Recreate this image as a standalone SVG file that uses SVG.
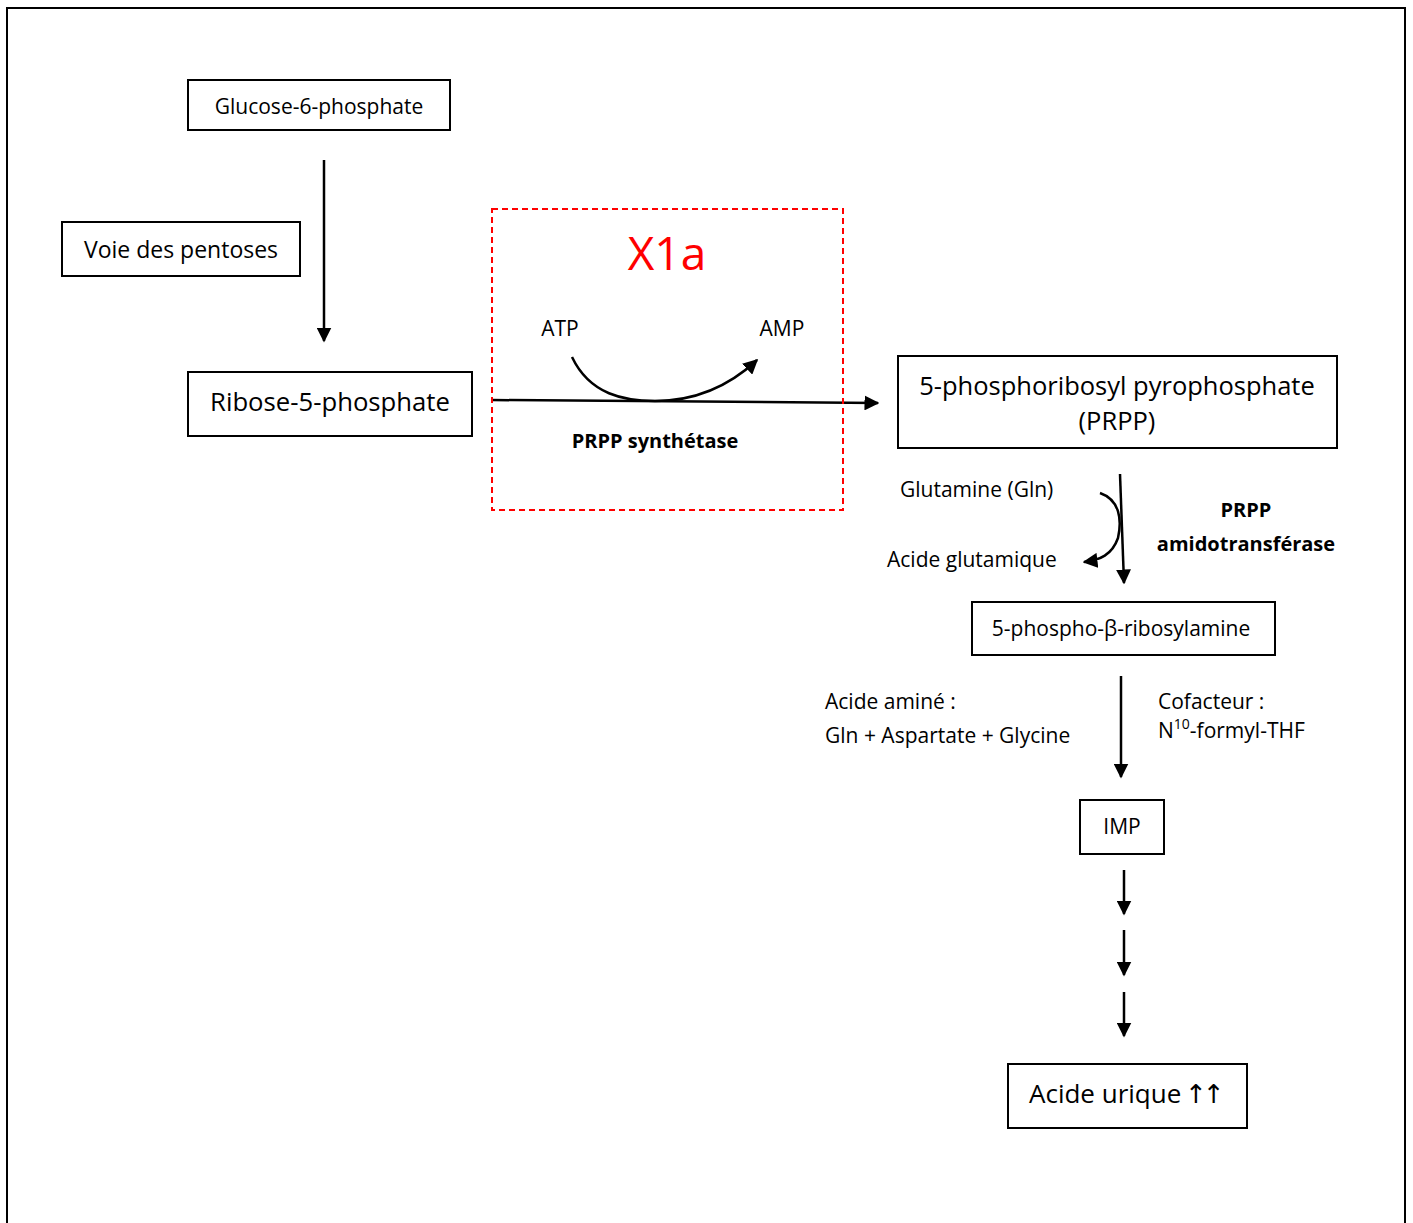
<svg xmlns="http://www.w3.org/2000/svg" width="1413" height="1223" viewBox="0 0 1413 1223">
<style>
text{font-family:"Open Sans","Noto Sans","Liberation Sans",sans-serif;fill:#000}
.box{fill:#fff;stroke:#000;stroke-width:2}
.c{text-anchor:middle}
.b{font-weight:bold}
.ln{fill:none;stroke:#000;stroke-width:2.5}
.up{font-family:"DejaVu Sans",sans-serif;font-size:26px;letter-spacing:-4px}
</style>
<defs>
<marker id="ah" viewBox="0 0 10 10" refX="9" refY="5" markerWidth="6" markerHeight="6" markerUnits="strokeWidth" orient="auto">
<path d="M0,0 L10,5 L0,10 z" fill="#000"/>
</marker>
</defs>
<rect x="0" y="0" width="1413" height="1223" fill="#fff"/>
<rect x="7" y="8" width="1398" height="1225" fill="none" stroke="#000" stroke-width="2"/>

<g id="connectors">
<line class="ln" x1="324" y1="160" x2="324" y2="341" marker-end="url(#ah)"/>
<line class="ln" x1="492" y1="400" x2="878" y2="403" marker-end="url(#ah)"/>
<path class="ln" d="M572,357 C590,395 625,401 655,401 C690,401 725,390 757,360" marker-end="url(#ah)"/>
<line class="ln" x1="1120" y1="474" x2="1124" y2="583" marker-end="url(#ah)"/>
<path class="ln" d="M1100,493 C1120,500 1122,520 1118,538 C1112,555 1100,560 1084,562" marker-end="url(#ah)"/>
<line class="ln" x1="1121" y1="676" x2="1121" y2="777" marker-end="url(#ah)"/>
<line class="ln" x1="1124" y1="870" x2="1124" y2="914" marker-end="url(#ah)"/>
<line class="ln" x1="1124" y1="930" x2="1124" y2="975" marker-end="url(#ah)"/>
<line class="ln" x1="1124" y1="992" x2="1124" y2="1036" marker-end="url(#ah)"/>
</g>

<g id="x1a">
<rect x="492" y="209" width="351" height="301" fill="none" stroke="#f00" stroke-width="2" stroke-dasharray="6,4"/>
<text class="c" x="667" y="270" font-size="46" style="fill:#f00">X1a</text>
<text class="c" x="560" y="336" font-size="21">ATP</text>
<text class="c" x="782" y="336" font-size="21">AMP</text>
<text class="c b" x="655" y="448" font-size="20">PRPP synthétase</text>
</g>

<g id="glucose6p">
<rect class="box" x="188" y="80" width="262" height="50"/>
<text class="c" x="319" y="114" font-size="21">Glucose-6-phosphate</text>
</g>
<g id="voie">
<rect class="box" x="62" y="222" width="238" height="54"/>
<text class="c" x="181" y="258" font-size="23">Voie des pentoses</text>
</g>
<g id="ribose5p">
<rect class="box" x="188" y="372" width="284" height="64"/>
<text class="c" x="330" y="411" font-size="25.7">Ribose-5-phosphate</text>
</g>
<g id="prpp">
<rect class="box" x="898" y="356" width="439" height="92"/>
<text class="c" x="1117" y="395" font-size="25.5">5-phosphoribosyl pyrophosphate</text>
<text class="c" x="1117" y="430" font-size="25.5">(PRPP)</text>
</g>
<g id="gln-labels">
<text x="900" y="497" font-size="21">Glutamine (Gln)</text>
<text x="887" y="567" font-size="21">Acide glutamique</text>
<text class="c b" x="1246" y="517" font-size="20">PRPP</text>
<text class="c b" x="1246" y="551" font-size="20">amidotransférase</text>
</g>
<g id="ribosylamine">
<rect class="box" x="972" y="602" width="303" height="53"/>
<text class="c" x="1121" y="636" font-size="21">5-phospho-β-ribosylamine</text>
</g>
<g id="imp-labels">
<text x="825" y="709" font-size="21">Acide aminé :</text>
<text x="825" y="743" font-size="21">Gln + Aspartate + Glycine</text>
<text x="1158" y="709" font-size="21">Cofacteur :</text>
<text x="1158" y="738" font-size="21">N<tspan font-size="14" dy="-9">10</tspan><tspan dy="9">-formyl-THF</tspan></text>
</g>
<g id="imp">
<rect class="box" x="1080" y="800" width="84" height="54"/>
<text class="c" x="1122" y="834" font-size="21">IMP</text>
</g>
<g id="acide-urique">
<rect class="box" x="1008" y="1064" width="239" height="64"/>
<text x="1029" y="1103" font-size="26">Acide urique<tspan class="up" x="1185">↑↑</tspan></text>
</g>
</svg>
